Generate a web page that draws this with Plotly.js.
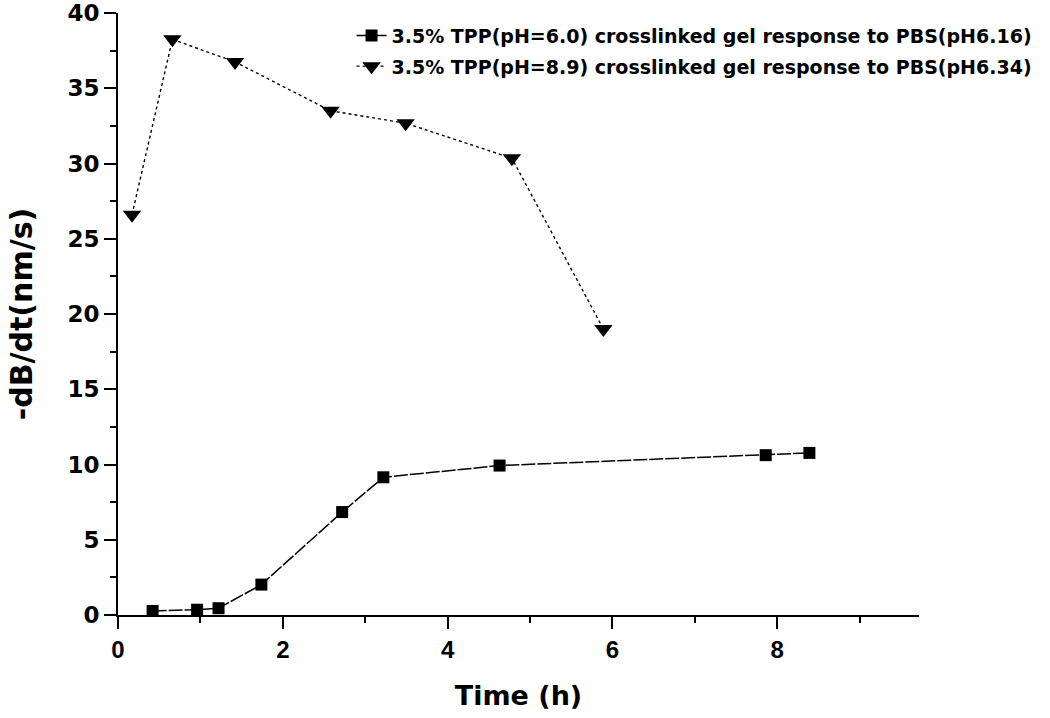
<!DOCTYPE html>
<html>
<head>
<meta charset="utf-8">
<script src="https://cdn.plot.ly/plotly-3.0.1.min.js"></script>
<style>
html,body{margin:0;padding:0;background:#fff;}
#chart{width:1050px;height:718px;}
</style>
</head>
<body>
<div id="chart"></div>
<script>
// Series 1: 3.5% TPP(pH=6.0) gel in PBS(pH6.16)
const timeA = [0.42, 0.96, 1.22, 1.74, 2.72, 3.22, 4.63, 7.86, 8.39];
const rateA = [0.27, 0.35, 0.45, 2.02, 6.84, 9.15, 9.93, 10.62, 10.77];
// Series 2: 3.5% TPP(pH=8.9) gel in PBS(pH6.34)
const timeB = [0.17, 0.66, 1.42, 2.58, 3.49, 4.78, 5.89];
const rateB = [26.6, 38.25, 36.75, 33.5, 32.68, 30.35, 19.0];

const nameA = '3.5% TPP(pH=6.0) crosslinked gel response to PBS(pH6.16)';
const nameB = '3.5% TPP(pH=8.9) crosslinked gel response to PBS(pH6.34)';
const xTitle = 'Time (h)';
const yTitle = '-dB/dt(nm/s)';

const lib = '"Liberation Sans", Arial, sans-serif';
const dv = '"DejaVu Sans", "Liberation Sans", sans-serif';

const traces = [
  {
    x: timeA, y: rateA, name: nameA, type: 'scatter', mode: 'lines+markers',
    legendgroup: 'a',
    line: {color: '#000', width: 1.5, dash: '14px,2px'},
    marker: {symbol: 'square', size: 12, color: '#000'},
    cliponaxis: false
  },
  {
    x: timeB, y: rateB, name: nameB, type: 'scatter', mode: 'lines+markers',
    legendgroup: 'b',
    line: {color: '#000', width: 1.4, dash: '3px,3px'},
    marker: {symbol: 'triangle-down', size: 16, color: '#000'},
    cliponaxis: false
  }
];

const layout = {
  width: 1050, height: 718,
  paper_bgcolor: '#fff', plot_bgcolor: '#fff',
  margin: {l: 118, r: 121, t: 13, b: 103},
  showlegend: true,
  legend: {
    x: 1.148, xanchor: 'right', y: 0.994, yanchor: 'top',
    bgcolor: 'rgba(0,0,0,0)', borderwidth: 0,
    font: {family: dv, size: 19, color: '#000', weight: 'bold'},
    traceorder: 'grouped', tracegroupgap: 3
  },
  xaxis: {
    range: [0, 9.72], showgrid: false, zeroline: false,
    showline: true, linecolor: '#000', linewidth: 2,
    ticks: 'outside', ticklen: 12, tickwidth: 2, tickcolor: '#000',
    tick0: 0, dtick: 2,
    minor: {ticks: 'outside', ticklen: 6, tickwidth: 2, tickcolor: '#000', dtick: 1, showgrid: false},
    tickfont: {family: lib, size: 24, color: '#000', weight: 'bold'},
    title: {text: xTitle, font: {family: dv, size: 27, color: '#000', weight: 'bold'}, standoff: 24},
    automargin: false
  },
  yaxis: {
    range: [0, 40], showgrid: false, zeroline: false,
    showline: true, linecolor: '#000', linewidth: 2,
    ticks: 'outside', ticklen: 12, tickwidth: 2, tickcolor: '#000',
    tick0: 0, dtick: 5,
    minor: {ticks: 'outside', ticklen: 6, tickwidth: 2, tickcolor: '#000', dtick: 2.5, showgrid: false},
    tickfont: {family: dv, size: 23, color: '#000', weight: 'bold'},
    title: {text: yTitle, font: {family: dv, size: 30, color: '#000', weight: 'bold'}, standoff: 26},
    automargin: false
  }
};

Plotly.newPlot('chart', traces, layout, {displayModeBar: false, staticPlot: true});
</script>
</body>
</html>
